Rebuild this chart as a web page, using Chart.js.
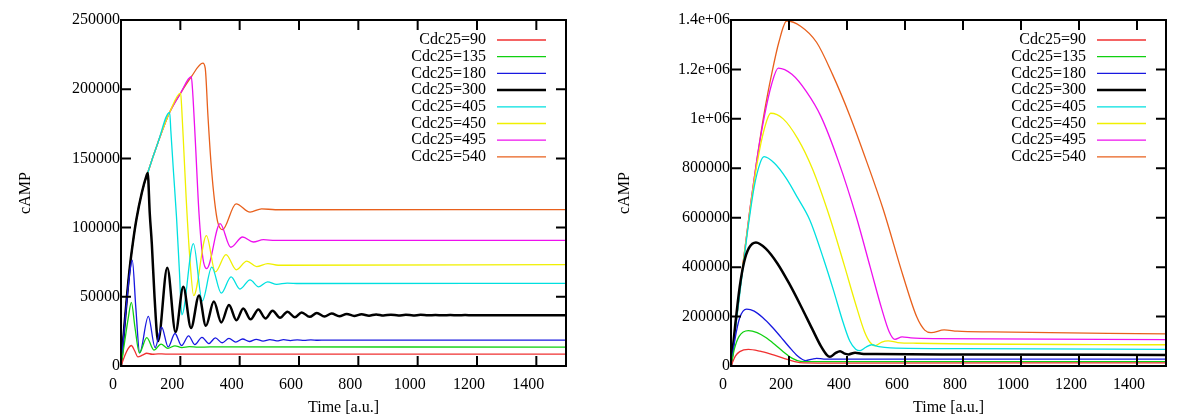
<!DOCTYPE html>
<html>
<head>
<style>
  body { margin: 0; background: #fff; }
  canvas { position: absolute; top: 0; }
  #left { left: 0; }
  #right { left: 600px; }
</style>
</head>
<body>
<canvas id="left" width="600" height="420"></canvas>
<canvas id="right" width="600" height="420"></canvas>

<script src="https://cdn.jsdelivr.net/npm/chart.js"></script>
<script>
// series labels and colours (shared by both panels)
const labels = ['Cdc25=90', 'Cdc25=135', 'Cdc25=180', 'Cdc25=300', 'Cdc25=405', 'Cdc25=450', 'Cdc25=495', 'Cdc25=540'];
const colors = ['#f03030', '#10d010', '#1818e0', '#000000', '#00e0e0', '#f0f000', '#ee10ee', '#e8601c'];

// left panel: [time, cAMP]
const left90 = [[0,0],[12,7000],[24,12500],[35,14800],[46,11000],[57,6600],[72,7800],[87,9200],[105,8500],[125,8750],[150,8650],[1500,8650]];
const left135 = [[0,0],[12,17000],[24,34000],[35,46000],[47,28000],[62,9500],[87,20500],[111,11500],[135,15800],[158,12800],[182,14600],[205,13300],[230,14000],[260,13600],[300,13750],[1500,13700]];
const left180 = [[0,0],[10,24000],[20,48000],[30,68000],[38,76400],[50,42000],[63,9500],[92,35800],[115,13300],[137,28000],[159,13800],[182,23500],[204,14800],[228,21800],[249,15500],[273,20700],[296,16200],[318,20300],[341,16800],[364,19900],[387,17300],[410,19500],[433,17700],[456,19300],[479,18000],[502,19100],[525,18200],[548,19000],[571,18400],[594,18900],[617,18500],[640,18850],[663,18600],[690,18750],[1500,18750]];
const left300 = [[0,0],[10,25000],[20,50000],[30,72000],[40,89000],[52,106000],[70,125000],[86,137500],[90,139500],[97,110000],[104,88000],[113,50000],[125,18000],[156,71000],[184,24500],[210,57200],[236,27500],[263,51000],[286,29000],[313,46600],[338,31500],[364,44000],[389,33000],[412,41600],[437,33700],[463,40800],[487,34300],[511,39900],[536,34800],[561,39200],[586,35200],[609,38700],[636,35500],[660,38300],[686,35800],[710,37900],[736,36000],[761,37600],[786,36200],[811,37400],[836,36350],[860,37250],[885,36450],[910,37100],[935,36500],[960,37000],[985,36550],[1010,36950],[1035,36600],[1060,36880],[1085,36630],[1110,36820],[1135,36650],[1160,36780],[1185,36680],[1210,36750],[1240,36700],[1500,36700]];
const left405 = [[0,0],[10,25000],[20,50000],[30,72000],[40,89000],[52,106000],[70,125000],[90,139500],[125,161700],[164,183300],[168,170000],[177,140000],[187,108000],[197,68000],[205,37000],[244,88400],[274,47000],[306,71400],[338,52600],[371,64400],[401,55600],[435,62200],[464,57200],[494,60800],[525,59000],[560,59900],[600,59600],[1500,59700]];
const left450 = [[0,0],[10,25000],[20,50000],[30,72000],[40,89000],[52,106000],[70,125000],[90,139500],[125,161700],[164,183300],[201,197200],[205,185000],[212,155000],[220,120000],[232,78000],[245,50800],[288,94200],[318,68000],[354,80500],[389,69500],[424,75800],[457,71800],[495,74000],[530,72800],[1500,73200]];
const left495 = [[0,0],[10,25000],[20,50000],[30,72000],[40,89000],[52,106000],[70,125000],[90,139500],[125,161700],[164,183300],[201,197200],[237,209000],[241,200000],[250,165000],[263,110000],[276,78000],[289,70400],[334,102800],[370,85800],[410,93200],[446,89600],[480,91300],[520,90700],[1500,90800]];
const left540 = [[0,0],[10,25000],[20,50000],[30,72000],[40,89000],[52,106000],[70,125000],[90,139500],[125,161700],[164,183300],[201,197200],[237,209000],[276,218800],[284,215000],[293,181000],[304,145000],[316,118000],[326,104000],[342,98500],[388,117200],[435,111200],[474,113600],[520,112900],[1500,113000]];

// right panel: [time, cAMP]
const right90 = [[0,0],[15,40000],[30,58000],[60,67600],[100,60000],[140,47000],[180,32000],[220,18000],[250,12500],[300,12000],[1500,12500]];
const right135 = [[0,0],[12,70000],[28,120000],[60,143400],[90,135000],[120,115000],[150,88000],[180,58000],[210,32000],[240,19000],[270,17500],[1500,18000]];
const right180 = [[0,0],[14,110000],[30,195000],[54,230000],[80,222000],[110,195000],[140,160000],[170,120000],[200,78000],[230,40000],[258,22000],[280,28000],[295,31000],[320,28000],[400,27500],[1500,28000]];
const right300 = [[0,0],[15,170000],[30,320000],[45,420000],[62,478000],[86,500000],[120,475000],[160,415000],[200,335000],[240,245000],[280,150000],[310,80000],[330,45000],[341,37000],[360,52000],[376,60000],[392,50000],[405,47000],[428,54000],[450,50000],[500,48500],[800,46500],[1500,44600]];
const right405 = [[0,0],[20,195000],[40,385000],[60,570000],[80,725000],[100,820000],[114,846800],[150,820000],[190,760000],[230,680000],[272,590000],[320,430000],[353,308000],[387,175000],[410,100000],[430,68000],[445,62000],[465,76000],[485,86000],[510,78000],[550,73000],[800,70000],[1500,67600]];
const right450 = [[0,0],[20,200000],[40,400000],[65,625000],[90,820000],[115,960000],[137,1022600],[180,1000000],[230,920000],[280,800000],[341,600000],[390,410000],[430,250000],[460,140000],[480,95000],[497,82000],[520,97000],[542,102000],[575,95000],[640,92000],[1500,86000]];
const right495 = [[0,0],[20,200000],[40,400000],[65,630000],[90,840000],[115,1010000],[140,1140000],[163,1205000],[210,1180000],[260,1110000],[310,1010000],[370,830000],[433,600000],[480,400000],[520,230000],[545,140000],[565,108000],[590,118000],[620,114000],[700,111000],[1500,107000]];
const right540 = [[0,0],[20,200000],[40,400000],[65,633000],[90,840000],[117,1040000],[140,1180000],[165,1310000],[192,1396000],[240,1375000],[295,1310000],[350,1180000],[410,1012000],[470,820000],[525,633000],[594,362000],[640,200000],[668,145000],[690,135000],[735,146000],[780,141000],[900,138000],[1500,130000]];

const leftYTicks = ['0', '50000', '100000', '150000', '200000', '250000'];
const rightYTicks = ['0', '200000', '400000', '600000', '800000', '1e+06', '1.2e+06', '1.4e+06'];

Chart.defaults.font.family = '"Liberation Serif", "DejaVu Serif", serif';
Chart.defaults.font.size = 16;
Chart.defaults.color = '#000';

// box round the plot with inward ticks on all four sides
const framePlugin = {
    id: 'frame',
    afterDraw(chart) {
        const {ctx, chartArea: a, scales} = chart;
        ctx.save();
        ctx.strokeStyle = '#000';
        ctx.lineWidth = 2;
        ctx.strokeRect(a.left, a.top, a.right - a.left, a.bottom - a.top);
        ctx.beginPath();
        scales.x.ticks.forEach(t => {
            const x = scales.x.getPixelForValue(t.value);
            ctx.moveTo(x, a.bottom); ctx.lineTo(x, a.bottom - 10);
            ctx.moveTo(x, a.top); ctx.lineTo(x, a.top + 10);
        });
        scales.y.ticks.forEach(t => {
            const y = scales.y.getPixelForValue(t.value);
            ctx.moveTo(a.left, y); ctx.lineTo(a.left + 10, y);
            ctx.moveTo(a.right, y); ctx.lineTo(a.right - 10, y);
        });
        ctx.stroke();
        ctx.restore();
    }
};

// legend: right-aligned text with a line sample after it
const keyPlugin = {
    id: 'key',
    afterDraw(chart) {
        const {ctx, chartArea: a} = chart;
        ctx.save();
        ctx.font = '16px "Liberation Serif"';
        ctx.textAlign = 'right';
        ctx.textBaseline = 'middle';
        chart.data.datasets.forEach((ds, i) => {
            const y = a.top + 20 + i * 16.7;
            ctx.fillStyle = '#000';
            ctx.fillText(ds.label, a.right - 80, y);
            ctx.strokeStyle = ds.borderColor;
            ctx.lineWidth = ds.borderWidth;
            ctx.beginPath();
            ctx.moveTo(a.right - 69, y);
            ctx.lineTo(a.right - 20, y);
            ctx.stroke();
        });
        ctx.restore();
    }
};

function buildChart(id, series, yMax, yStep, yTicks, yWidth, titlePad) {
    const datasets = series.map((data, i) => ({
        label: labels[i],
        data: data,
        borderColor: colors[i],
        borderWidth: i === 3 ? 2.5 : 1.3,
        pointRadius: 0,
        fill: false,
        cubicInterpolationMode: 'monotone'
    }));
    return new Chart(document.getElementById(id), {
        type: 'line',
        data: { datasets: datasets },
        plugins: [framePlugin, keyPlugin],
        options: {
            responsive: false,
            animation: false,
            layout: { padding: { left: 0, right: 34, top: 20, bottom: 0 } },
            plugins: { legend: { display: false }, tooltip: { enabled: false } },
            scales: {
                x: {
                    type: 'linear',
                    min: 0,
                    max: 1500,
                    grid: { display: false, drawTicks: false },
                    border: { display: false },
                    ticks: { stepSize: 200, includeBounds: false, padding: 9, labelOffset: -8, maxRotation: 0,
                             callback: v => String(v) },
                    title: { display: true, text: 'Time [a.u.]', padding: { top: 0, bottom: 3 } },
                    afterFit: s => { s.height = 54; }
                },
                y: {
                    min: 0,
                    max: yMax,
                    grid: { display: false, drawTicks: false },
                    border: { display: false },
                    ticks: { stepSize: yStep, padding: 1, callback: (v, idx) => yTicks[idx] },
                    title: { display: true, text: 'cAMP', padding: { top: titlePad, bottom: 0 } },
                    afterFit: s => { s.width = yWidth; }
                }
            }
        }
    });
}

buildChart('left', [left90, left135, left180, left300, left405, left450, left495, left540],
    250000, 50000, leftYTicks, 121, 16);
buildChart('right', [right90, right135, right180, right300, right405, right450, right495, right540],
    1400000, 200000, rightYTicks, 131, 15);
</script>
</body>
</html>
